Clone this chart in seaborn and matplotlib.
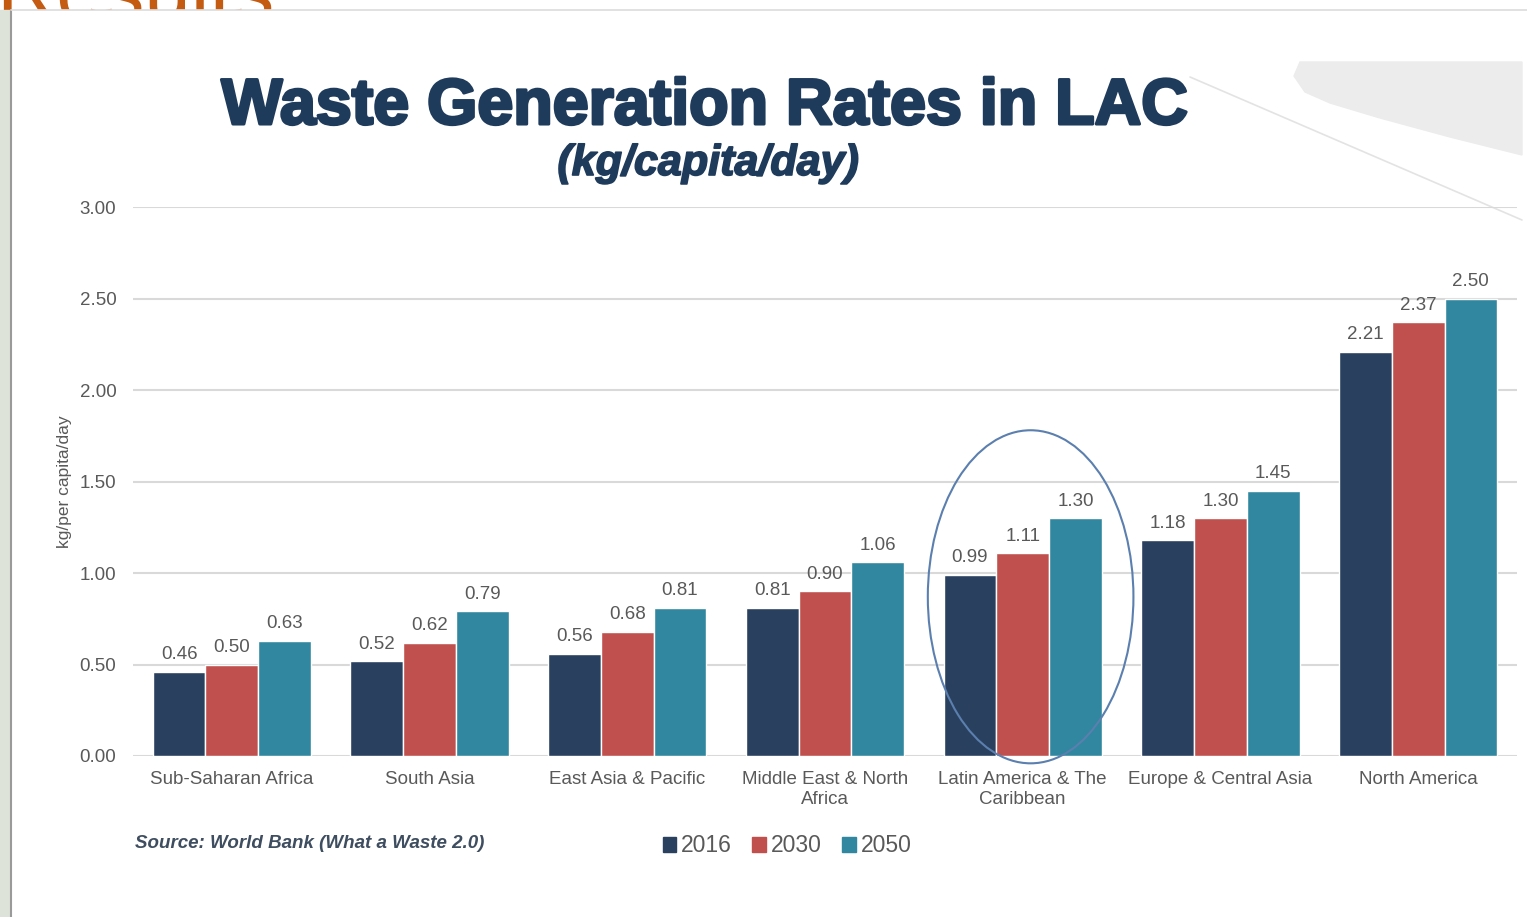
import numpy as np
import pandas as pd
import matplotlib.pyplot as plt
import matplotlib.patheffects as pe
import seaborn as sns
from matplotlib.patches import Ellipse, Rectangle, Polygon
from matplotlib.lines import Line2D

# --- data ---
regions = ['Sub-Saharan Africa', 'South Asia', 'East Asia & Pacific',
           'Middle East & North\nAfrica', 'Latin America & The\nCaribbean',
           'Europe & Central Asia', 'North America']
years = ['2016', '2030', '2050']
rate_2016 = [0.46, 0.52, 0.56, 0.81, 0.99, 1.18, 2.21]
rate_2030 = [0.50, 0.62, 0.68, 0.90, 1.11, 1.30, 2.37]
rate_2050 = [0.63, 0.79, 0.81, 1.06, 1.30, 1.45, 2.50]
y_ticks = [0.0, 0.5, 1.0, 1.5, 2.0, 2.5, 3.0]

colors = ['#2a405f', '#c0504d', '#31879f']
grey_txt = '#595959'
navy = '#1f3b5c'

df = pd.DataFrame({
    'region': regions * 3,
    'year': np.repeat(years, len(regions)),
    'value': rate_2016 + rate_2030 + rate_2050,
})

sns.set_theme(style='white')
plt.rcParams['font.family'] = ['Liberation Sans', 'DejaVu Sans']

W, H = 1527, 917
def px(x, y):
    return (x / W, 1 - y / H)

fig = plt.figure(figsize=(W / 100, H / 100), dpi=100)
fig.patch.set_facecolor('white')

# slide decorations (heading of the slide behind, mostly hidden)
fig.text(*px(-4, 20), 'Results', fontsize=60, color='#c55a11', ha='left',
         va='baseline', zorder=-3)
fig.add_artist(Rectangle(px(11, 917), 1 - 11 / W, (917 - 10) / H,
                         transform=fig.transFigure, color='white', zorder=-2))
fig.add_artist(Rectangle(px(0, 917), 10 / W, (917 - 10) / H,
                         transform=fig.transFigure, color='#dde3d9', zorder=-2))
fig.add_artist(Line2D([11 / W, 11 / W], [0, 1 - 10 / H], transform=fig.transFigure,
                      color='#9a9a9a', lw=1.5, zorder=-1))
fig.add_artist(Line2D([11 / W, 1], [1 - 10 / H, 1 - 10 / H], transform=fig.transFigure,
                      color='#dcdcdc', lw=1.2, zorder=-1))
swoosh = [(1300, 62), (1522, 62), (1522, 155), (1450, 137), (1380, 118),
          (1330, 103), (1305, 92), (1294, 76)]
fig.add_artist(Polygon([px(*p) for p in swoosh], closed=True, transform=fig.transFigure,
                       color='#ececec', zorder=-1))
fig.add_artist(Line2D([1190 / W, 1522 / W], [1 - 77 / H, 1 - 220 / H],
                      transform=fig.transFigure, color='#e3e3e3', lw=1.2, zorder=-1))

# main chart
ax = fig.add_axes([133 / W, 1 - 756 / H, (1517 - 133) / W, (756 - 207) / H])
ax.set_facecolor('none')
sns.barplot(data=df, x='region', y='value', hue='year', order=regions,
            hue_order=years, palette=colors, saturation=1, width=0.8,
            errorbar=None, legend=False, ax=ax)

for cont in ax.containers:
    ax.bar_label(cont, fmt='%.2f', padding=6, fontsize=13.5, color=grey_txt)

ax.set_ylim(0, 3)
ax.set_yticks(y_ticks)
ax.set_yticklabels([f'{v:.2f}' for v in y_ticks])
ax.yaxis.grid(True, color='#d9d9d9', lw=1.5)
ax.set_axisbelow(True)
for s in ax.spines.values():
    s.set_visible(False)
ax.tick_params(axis='both', length=0, colors=grey_txt, labelsize=13.5)
ax.tick_params(axis='x', pad=11)
ax.tick_params(axis='y', pad=12)
ax.set_xlabel('')
ax.set_ylabel('')

# highlight around LAC
ax.add_patch(Ellipse((4.04, 0.87), 1.04, 1.82, fill=False, edgecolor='#5b7fae',
                     lw=1.5, clip_on=False))

fig.text(*px(65, 482), 'kg/per capita/day', rotation=90, fontsize=12.5,
         color=grey_txt, ha='center', va='center')

# titles and notes
heavy = [pe.withStroke(linewidth=2.2, foreground=navy)]
fig.text(*px(705, 107), 'Waste Generation Rates in LAC', fontsize=46.5,
         weight='bold', color=navy, ha='center', va='center', path_effects=heavy)
fig.text(*px(708, 164), '(kg/capita/day)', fontsize=31, weight='bold',
         style='italic', color=navy, ha='center', va='center',
         path_effects=[pe.withStroke(linewidth=1.2, foreground=navy)])
fig.text(*px(135, 843), 'Source: World Bank (What a Waste 2.0)', fontsize=13.5,
         weight='bold', style='italic', color='#3e4d5f', ha='left', va='center')

handles = [Rectangle((0, 0), 1, 1, color=c) for c in colors]
fig.legend(handles, years, loc='center', bbox_to_anchor=px(787, 846), ncol=3,
           frameon=False, fontsize=16.5, handlelength=0.6, handleheight=0.6,
           handletextpad=0.2, columnspacing=0.9, labelcolor=grey_txt)

fig.savefig('out.png', dpi=100)
